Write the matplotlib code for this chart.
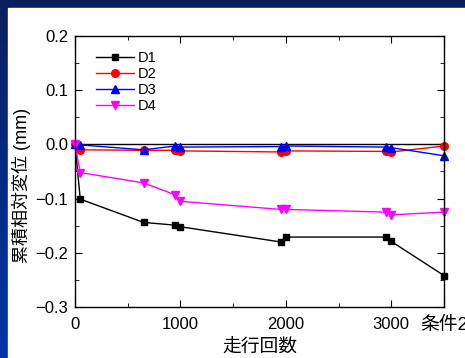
import numpy as np
import matplotlib
matplotlib.use('Agg')
import matplotlib.pyplot as plt
from matplotlib.colors import LinearSegmentedColormap

plt.rcParams['font.family'] = ['Liberation Sans', 'Noto Sans CJK JP']

# running count (cycles)
x = [0, 50, 650, 950, 1000, 1950, 2000, 2950, 3000, 3500]
d1 = [0.0, -0.101, -0.144, -0.149, -0.152, -0.180, -0.171, -0.171, -0.179, -0.242]
d2 = [0.0, -0.010, -0.011, -0.011, -0.012, -0.014, -0.012, -0.013, -0.014, -0.003]
d3 = [0.0, -0.001, -0.010, -0.003, -0.005, -0.004, -0.003, -0.005, -0.006, -0.021]
d4 = [0.0, -0.052, -0.071, -0.093, -0.105, -0.120, -0.120, -0.125, -0.130, -0.125]

xticks = [0, 1000, 2000, 3000, 3500]
xticklabels = ['0', '1000', '2000', '3000', '条件2']

fig = plt.figure(figsize=(4.65, 3.58), dpi=100)

# slide background: navy band, blue gradient down the left edge
bg = fig.add_axes([0, 0, 1, 1], zorder=-10)
grad = np.linspace(0, 1, 256).reshape(-1, 1)
cmap = LinearSegmentedColormap.from_list('bg', ['#0b1f5c', '#0036a6'])
bg.imshow(grad, aspect='auto', cmap=cmap, extent=[0, 1, 0, 1], origin='upper')
bg.add_patch(plt.Rectangle((8 / 465, 0), 1, 1 - 8 / 358, color='white'))
bg.set_xlim(0, 1)
bg.set_ylim(0, 1)
bg.axis('off')

ax = fig.add_axes([0.1613, 0.1425, 0.7935, 0.757])
ax.axhline(0, color='black', lw=1.0, zorder=1)

ax.plot(x, d1, color='black', marker='s', ms=5, lw=1, label='D1', clip_on=False)
ax.plot(x, d2, color='red', marker='o', ms=5.5, lw=1, label='D2', clip_on=False)
ax.plot(x, d3, color='blue', marker='^', ms=6, lw=1, label='D3', clip_on=False)
ax.plot(x, d4, color='magenta', marker='v', ms=6, lw=1, label='D4', clip_on=False)

ax.set_xlim(0, 3500)
ax.set_ylim(-0.3, 0.2)
ax.set_xticks(xticks)
ax.set_xticks([500, 1500, 2500], minor=True)
ax.set_yticks([-0.3, -0.2, -0.1, 0.0, 0.1, 0.2])
ax.set_yticks([-0.25, -0.15, -0.05, 0.05, 0.15], minor=True)
ax.tick_params(which='both', direction='in', top=True, right=True, labelsize=12)
ax.tick_params(axis='x', pad=7)
ax.tick_params(axis='y', pad=5)
ax.tick_params(which='major', length=5)
ax.tick_params(which='minor', length=3)
ax.set_xticklabels(xticklabels)
ax.get_xticklabels()[-1].set_fontsize(13.5)
for s in ax.spines.values():
    s.set_linewidth(1.0)

ax.set_xlabel('走行回数', fontsize=13.5, labelpad=4)
ax.set_ylabel('累積相対変位 (mm)', fontsize=13)
ax.yaxis.set_label_coords(-0.12, 0.45)

ax.legend(loc='upper left', bbox_to_anchor=(0.057, 0.945), frameon=False, fontsize=10.5,
          handlelength=2.6, labelspacing=0.15, handletextpad=0.25, borderaxespad=0,
          borderpad=0)

fig.savefig('out.png', dpi=100)
